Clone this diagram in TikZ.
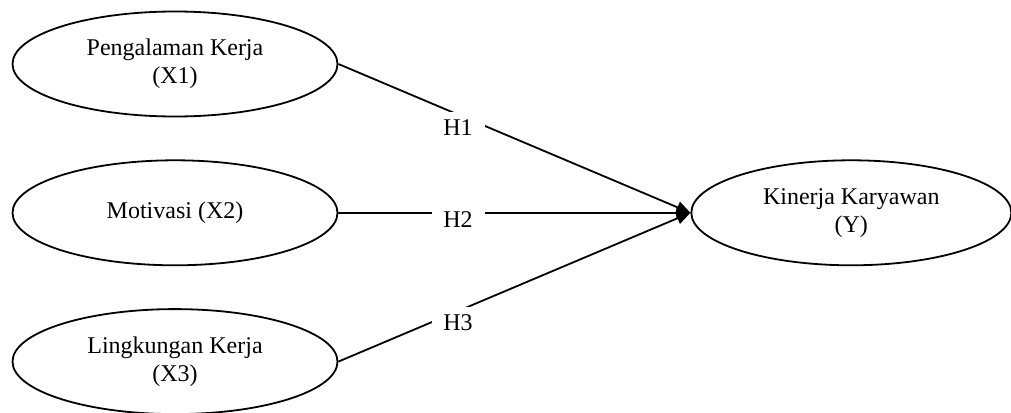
\documentclass[tikz,border=0pt]{standalone}
\usepackage{fontspec}
\setmainfont{Liberation Serif}
\usetikzlibrary{arrows.meta,positioning,shapes.geometric}

\begin{document}
\begin{tikzpicture}[x=0.5pt,y=-0.5pt,font=\fontsize{12}{14}\selectfont,node distance=21pt,
    every node/.style={align=center},
    var/.style={draw,ellipse,line width=0.9pt,minimum width=162.5pt,minimum height=52.5pt,inner sep=0pt},
    hyp/.style={fill=white,minimum width=26.5pt,minimum height=16pt,inner sep=0pt}]
  \useasboundingbox (0,0) rectangle (1011,412);
  \node[var] (x1) at (175,64) {Pengalaman Kerja\\(X1)};
  \node[var,below=of x1] (x2) {Motivasi (X2)};
  \node[var,below=of x2] (x3) {Lingkungan Kerja\\(X3)};
  \node[var,minimum width=160pt,right=176pt of x2] (y) {Kinerja Karyawan\\(Y)};
  \foreach \v in {x1,x2,x3}
    \draw[line width=0.9pt,-{Triangle[length=7pt,width=6pt]}] (\v.east) -- (y.west);
  \node[hyp] (h1) at (458,128) {H1};
  \node[hyp] (h2) at (458,220) {H2};
  \node[hyp] (h3) at (458,323) {H3};
\end{tikzpicture}
\end{document}
